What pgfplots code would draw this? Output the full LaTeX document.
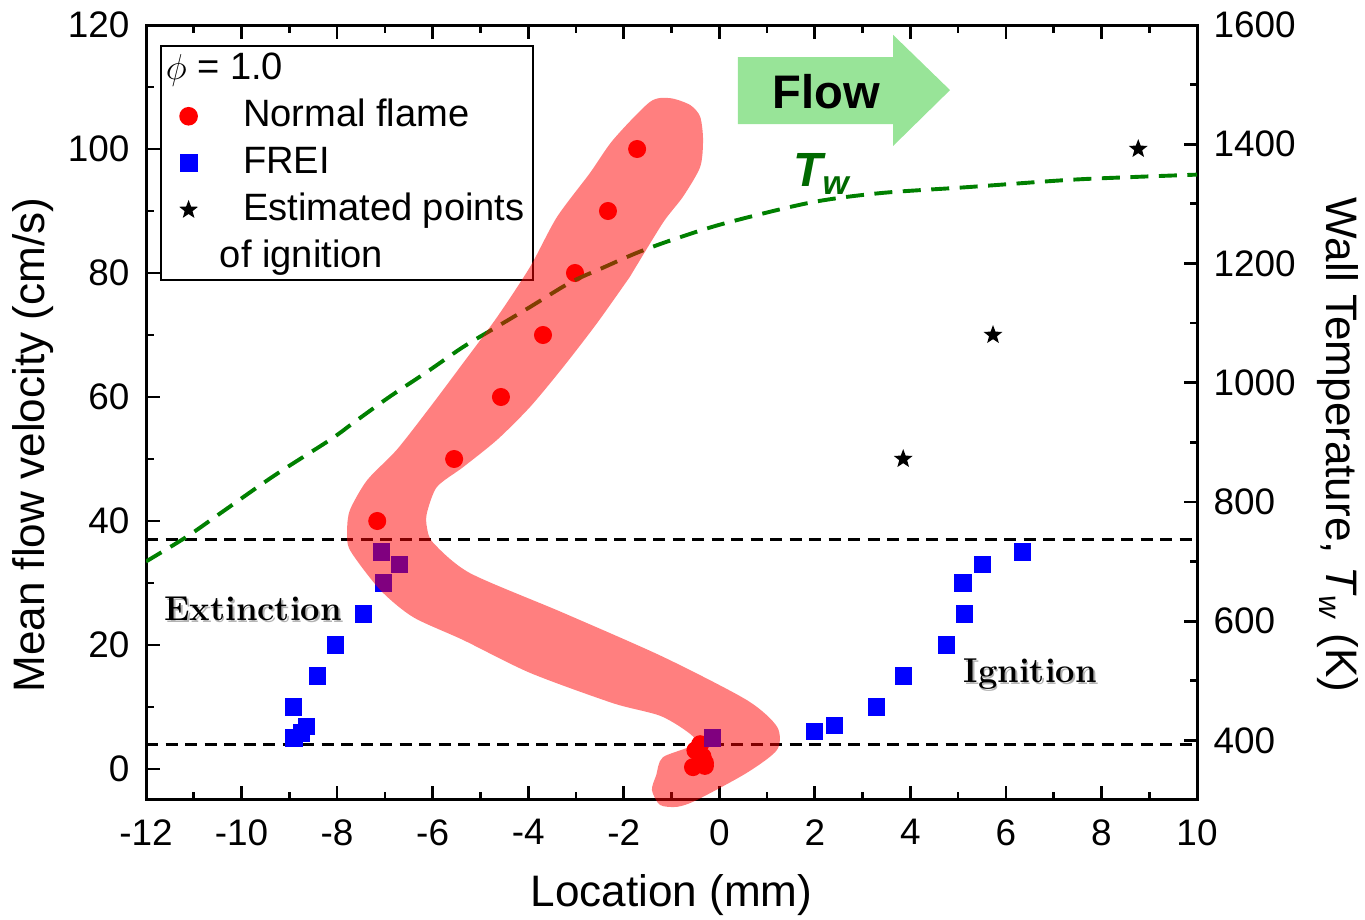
\documentclass[border=0pt]{standalone}
\usepackage{pgfplots}
\pgfplotsset{compat=1.18}
\usepackage{fontspec}
\setsansfont{Liberation Sans}
\definecolor{flowgreen}{RGB}{152,228,152}
\definecolor{twgreen}{RGB}{0,128,0}
\definecolor{tlabel}{RGB}{0,105,0}

\pgfdeclareplotmark{fstar}{%
  \pgfpathmoveto{\pgfpointpolar{90}{\pgfplotmarksize}}%
  \pgfpathlineto{\pgfpointpolar{126}{0.42\pgfplotmarksize}}%
  \pgfpathlineto{\pgfpointpolar{162}{\pgfplotmarksize}}%
  \pgfpathlineto{\pgfpointpolar{198}{0.42\pgfplotmarksize}}%
  \pgfpathlineto{\pgfpointpolar{234}{\pgfplotmarksize}}%
  \pgfpathlineto{\pgfpointpolar{270}{0.42\pgfplotmarksize}}%
  \pgfpathlineto{\pgfpointpolar{306}{\pgfplotmarksize}}%
  \pgfpathlineto{\pgfpointpolar{342}{0.42\pgfplotmarksize}}%
  \pgfpathlineto{\pgfpointpolar{18}{\pgfplotmarksize}}%
  \pgfpathlineto{\pgfpointpolar{54}{0.42\pgfplotmarksize}}%
  \pgfpathclose
  \pgfusepathqfill}

\pgfplotsset{
  base/.style={
    width=350.33pt, height=258.33pt, scale only axis,
    xmin=-12, xmax=10,
    tick align=inside,
    major tick length=4.5pt, minor tick length=2.5pt,
    every tick/.style={black, line width=0.9pt},
    axis line style={line width=1pt},
    /pgf/number format/assume math mode=true,
    /pgf/number format/1000 sep={},
    tick label style={font=\sffamily\fontsize{12.3}{14}\selectfont},
    label style={font=\sffamily\fontsize{14.7}{17}\selectfont},
  }
}

\begin{document}
\begin{tikzpicture}
\begin{axis}[name=main, base,
  ymin=-5, ymax=120,
  xtick={-12,-10,...,10}, ytick={0,20,...,120},
  minor x tick num=1, minor y tick num=1,
  ytick pos=left, xtick pos=both, xticklabel pos=lower,
  yticklabel style={xshift=-2pt},
  xticklabel style={yshift=-3pt},
  xlabel={Location (mm)}, ylabel={Mean flow velocity (cm/s)},
  xlabel style={at={(axis description cs:0.5,-0.1226)}, anchor=center},
  ylabel style={at={(axis description cs:-0.1075,0.458)}, anchor=center},
  legend cell align=left,
  legend style={at={(rel axis cs:0.0133,0.974)}, anchor=north west,
    draw=black, line width=0.6pt, inner xsep=0.7pt, inner ysep=0pt,
    column sep=13pt,
    font=\sffamily\fontsize{12.7}{15}\selectfont,
    nodes={inner sep=2pt, text height=9.3pt, text depth=2.3pt}},
]
% flow arrow
\fill[flowgreen] (axis cs:0.39,104.0) -- (axis cs:3.64,104.0) -- (axis cs:3.64,100.5)
  -- (axis cs:4.83,109.5) -- (axis cs:3.64,118.4) -- (axis cs:3.64,114.8)
  -- (axis cs:0.39,114.8) -- cycle;
\node[font=\sffamily\bfseries\fontsize{15.7}{18}\selectfont, anchor=base] at (axis cs:2.235,106.6) {Flow};

\addlegendimage{empty legend}
\addlegendentry{\hspace*{-25.7pt}$\phi$ = 1.0}

% dashed limits
\addplot[forget plot, black, line width=1pt, dash pattern=on 4pt off 2.5pt] coordinates {(-12,37) (10,37)};
\addplot[forget plot, black, line width=1pt, dash pattern=on 4pt off 2.5pt] coordinates {(-12,4) (10,4)};

% normal flame
\addplot[only marks, mark=*, mark size=2.8pt, color=red, mark options={draw=red, fill=red}] coordinates {
(-1.72,100) (-2.33,90) (-3.02,80) (-3.69,70) (-4.57,60) (-5.55,50) (-7.16,40)
(-0.40,4) (-0.50,3) (-0.35,2) (-0.30,1) (-0.55,0.3) (-0.30,0.5)
};
\addlegendentry{Normal flame}

% FREI
\addplot[only marks, mark=square*, mark size=2.67pt, color=blue, mark options={draw=blue, fill=blue}] coordinates {
(-8.92,10) (-8.90,5) (-8.74,5.8) (-8.64,6.8) (-8.41,15) (-8.04,20) (-7.44,25)
(-7.03,30) (-7.07,35) (-6.70,33) (-0.15,5)
(2.00,6) (2.41,7) (3.29,10) (3.85,15) (4.76,20) (5.13,25) (5.10,30) (5.51,33) (6.35,35)
};
\addlegendentry{FREI}

% estimated ignition
\addplot[only marks, mark=fstar, mark size=3.3pt, color=black] coordinates {
(8.77,100) (5.73,70) (3.85,50)
};
\addlegendentry{Estimated points}
\addlegendimage{empty legend}
\addlegendentry{\hspace*{-7.7pt}of ignition}

% labels
\node[anchor=base west, text=tlabel, font=\sffamily\bfseries\itshape\fontsize{16}{18}\selectfont] at (axis cs:1.33,93.9) {T\textsubscript{w}};
\node[anchor=base, text=black!30, font=\bfseries\fontsize{11.5}{13}\selectfont] at ([shift={(0.6pt,-0.6pt)}]axis cs:-9.76,23.9) {Extinction};
\node[anchor=base, font=\bfseries\fontsize{11.5}{13}\selectfont] at (axis cs:-9.76,23.9) {Extinction};
\node[anchor=base, text=black!30, font=\bfseries\fontsize{11.5}{13}\selectfont] at ([shift={(0.6pt,-0.6pt)}]axis cs:6.51,13.9) {Ignition};
\node[anchor=base, font=\bfseries\fontsize{11.5}{13}\selectfont] at (axis cs:6.51,13.9) {Ignition};
\end{axis}

\begin{axis}[base,
  ymin=300, ymax=1600,
  axis x line=none, axis y line*=right,
  ytick={400,600,...,1600}, minor y tick num=1,
  yticklabel style={xshift=2pt},
  ylabel={Wall Temperature, \textit{T}\textsubscript{\textit{w}} (K)},
  every axis y label/.style={at={(axis description cs:1.134,0.458)}, anchor=center, rotate=-90,
    font=\sffamily\fontsize{14.7}{17}\selectfont},
]
\addplot[twgreen, line width=1.3pt, dash pattern=on 6pt off 3.5pt, smooth] coordinates {
(-12,700) (-11.14,742) (-10.39,784) (-9.3,845) (-8.15,904) (-7.62,935) (-6.89,977) (-6.12,1018)
(-5.36,1060) (-4.65,1094) (-3.96,1127) (-3.12,1168) (-2.43,1193) (-1.72,1218)
(-0.97,1240) (0.1,1267) (1.90,1302) (3.37,1318) (5.19,1328)
(7.28,1340) (8.66,1345) (10,1349)
};
\end{axis}

\begin{axis}[base, hide axis, clip=false, ymin=-5, ymax=120]
\addplot[draw=none, fill=red, fill opacity=0.5, smooth, tension=0.45] coordinates {
(-1.87,79.4) (-2.56,71.9) (-3.27,64.8) (-3.96,58.4) (-4.65,53.1) (-5.36,48.7)
(-5.91,45.5) (-6.12,41.3) (-6.12,39.0) (-5.99,36.5) (-5.22,31.6) (-3.27,25.2)
(-1.18,18.1) (0.58,11.1) (1.21,6.8) (1.21,3.1) (0.58,-0.6) (-0.47,-5.0)
(-0.88,-6.1) (-1.24,-5.8) (-1.41,-3.4) (-1.32,-1.0) (-1.18,1.9) (-0.47,4.4)
(-1.18,8.4) (-2.22,10.6) (-3.96,15.5) (-5.36,20.8) (-6.41,24.5) (-7.10,28.9)
(-7.73,35.3) (-7.79,38.5) (-7.73,41.8) (-7.37,46.6) (-6.75,51.5) (-6.05,58.4)
(-5.36,65.5) (-4.65,72.9) (-3.96,81.0) (-3.40,89.0) (-2.71,96.1) (-2.22,101.5)
(-1.45,107.6) (-1.03,108.2) (-0.61,107.1) (-0.40,105.2) (-0.34,101.5) (-0.40,97.1)
(-0.76,92.3) (-1.18,88.1) (-1.87,79.4)
} -- cycle;
\end{axis}

\pgfresetboundingbox
\path[use as bounding box] ([shift={(-48.67pt,-40pt)}]main.south west) rectangle ++(455pt,306.67pt);
\end{tikzpicture}
\end{document}
